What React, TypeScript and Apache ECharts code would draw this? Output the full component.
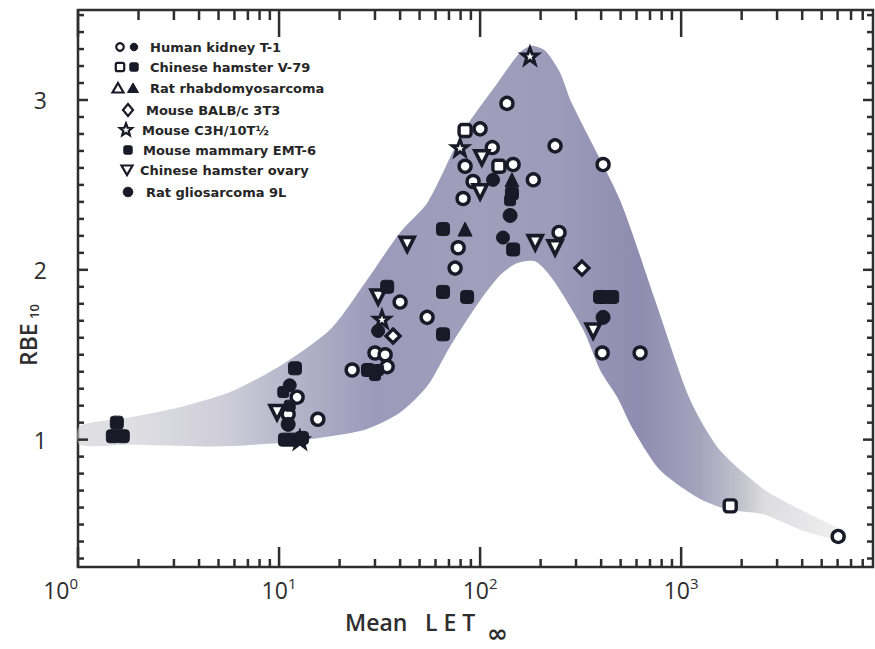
import React, { useEffect, useRef } from 'react';
import * as echarts from 'echarts';

const INK = '#1a1928';
const AXIS = '#2e2e2e';
const FONT = '"Open Sans", "Noto Sans", sans-serif';
const LEGEND_FONT = 'DejaVu Sans';

const X_MIN = 1;
const X_MAX = 9000;
const Y_MIN = 0.25;
const Y_MAX = 3.53;

// Shaded band (upper & lower envelopes)
const bandUpperLET = [1.02, 1.8, 3.2, 5.7, 10, 18, 27, 40, 55, 82, 122, 158, 181, 211, 250, 281, 341, 497, 743, 1104, 1554, 2560, 3480, 4920, 6180];
const bandUpper = [1.08, 1.13, 1.19, 1.28, 1.43, 1.65, 1.93, 2.22, 2.4, 2.81, 3.1, 3.28, 3.32, 3.29, 3.16, 3.0, 2.8, 2.41, 1.82, 1.24, 0.94, 0.71, 0.62, 0.53, 0.47];
const bandLowerLET = [1.02, 1.8, 4.7, 10, 18, 27, 40, 55, 71, 100, 126, 153, 188, 231, 325, 395, 481, 577, 787, 1244, 1694, 2560, 3910, 6180];
const bandLower = [0.97, 0.97, 0.96, 0.98, 1.02, 1.06, 1.16, 1.32, 1.55, 1.82, 1.97, 2.04, 2.05, 1.94, 1.65, 1.41, 1.25, 1.06, 0.82, 0.65, 0.59, 0.56, 0.47, 0.41];

// Data series [mean LET, RBE10]
const kidneyOpen = [[11.1, 1.15], [12.3, 1.25], [15.6, 1.12], [23.1, 1.41], [30.0, 1.51], [33.7, 1.5], [34.5, 1.43], [40.0, 1.81], [54.5, 1.72], [75.1, 2.01], [77.8, 2.13], [82.3, 2.42], [84.2, 2.61], [92.3, 2.52], [100, 2.83], [115, 2.72], [146, 2.62], [136, 2.98], [184, 2.53], [236, 2.73], [247, 2.22], [405, 1.51], [625, 1.51], [409, 2.62], [6040, 0.43]];
const kidneyFilled = [[11.3, 1.32], [31.1, 1.64], [116, 2.53], [130, 2.19]];
const v79Open = [[84.2, 2.82], [1754, 0.61], [124, 2.61]];
const v79Filled = [[1.49, 1.02], [1.56, 1.1], [1.67, 1.02], [12.0, 1.42], [10.7, 1.0], [11.7, 1.0], [13.0, 1.01], [34.5, 1.9], [27.7, 1.41], [65.4, 2.24], [65.4, 1.62], [65.4, 1.87], [86.2, 1.84], [144, 2.45], [146, 2.12], [395, 1.84], [409, 1.84], [454, 1.84]];
const rhabdoFilled = [[84.2, 2.24], [144, 2.53]];
const balbDiamond = [[36.9, 1.61], [321, 2.01]];
const c3hStar = [[177, 3.26], [79.5, 2.72], [32.5, 1.71], [12.7, 1.0]];
const emt6 = [[31.1, 1.41], [10.5, 1.28], [11.3, 1.2], [141, 2.41], [30.0, 1.38]];
const cho = [[9.77, 1.16], [43.4, 2.15], [31.1, 1.84], [102, 2.66], [100, 2.46], [188, 2.16], [236, 2.13], [365, 1.64]];
const glio = [[141, 2.32], [409, 1.72], [11.1, 1.09]];

// Tick values
const xMajorTicks = [1, 10, 100, 1000];
const xMinorTicks = [2, 3, 4, 5, 6, 7, 8, 9, 20, 30, 40, 50, 60, 70, 80, 90, 200, 300, 400, 500, 600, 700, 800, 900, 2000, 3000, 4000, 5000, 6000, 7000, 8000];
const yMajorTicks = [1, 2, 3];
const yMinorTicks = [0.3, 0.4, 0.5, 0.6, 0.7, 0.8, 0.9, 1.1, 1.2, 1.3, 1.4, 1.5, 1.6, 1.7, 1.8, 1.9, 2.1, 2.2, 2.3, 2.4, 2.5, 2.6, 2.7, 2.8, 2.9, 3.1, 3.2, 3.3, 3.4, 3.5];
const yLabelValues = [1, 2, 3];

const STAR = 'path://M12,1 L15,9 L23,9 L16.5,14 L19,22 L12,17 L5,22 L7.5,14 L1,9 L9,9 Z';

const legendRows = [
  { label: 'Human kidney T-1', marks: [['circle', true, 120], ['circle', false, 134]], tx: 150, y: 47 },
  { label: 'Chinese hamster V-79', marks: [['square', true, 120], ['square', false, 134]], tx: 150, y: 67 },
  { label: 'Rat rhabdomyosarcoma', marks: [['triangle', true, 118], ['triangle', false, 133]], tx: 150, y: 88 },
  { label: 'Mouse BALB/c 3T3', marks: [['diamond', true, 128]], tx: 146, y: 110 },
  { label: 'Mouse C3H/10T½', marks: [['star', true, 126]], tx: 142, y: 130 },
  { label: 'Mouse mammary EMT-6', marks: [['square', false, 128]], tx: 143, y: 150 },
  { label: 'Chinese hamster ovary', marks: [['invTriangle', true, 127]], tx: 140, y: 170 },
  { label: 'Rat gliosarcoma 9L', marks: [['bigCircle', false, 128]], tx: 146, y: 192 },
];

function legendMark(kind: string, open: boolean, cx: number, cy: number): any {
  const style = open ? { fill: '#fff', stroke: INK, lineWidth: 2.2 } : { fill: INK, stroke: INK, lineWidth: 1 };
  if (kind === 'circle') return { type: 'circle', shape: { cx, cy, r: 3.8 }, style };
  if (kind === 'bigCircle') return { type: 'circle', shape: { cx, cy, r: 4.8 }, style };
  if (kind === 'square') return { type: 'rect', shape: { x: cx - 4.2, y: cy - 4.2, width: 8.4, height: 8.4, r: 1.5 }, style };
  if (kind === 'triangle') return { type: 'polygon', shape: { points: [[cx, cy - 5], [cx + 5.5, cy + 4.5], [cx - 5.5, cy + 4.5]] }, style };
  if (kind === 'invTriangle') return { type: 'polygon', shape: { points: [[cx - 5.5, cy - 4.5], [cx + 5.5, cy - 4.5], [cx, cy + 5]] }, style };
  if (kind === 'diamond') return { type: 'polygon', shape: { points: [[cx, cy - 6], [cx + 5, cy], [cx, cy + 6], [cx - 5, cy]] }, style };
  const pts: number[][] = [];
  for (let i = 0; i < 10; i++) {
    const r = i % 2 === 0 ? 6.5 : 2.8;
    const a = -Math.PI / 2 + (i * Math.PI) / 5;
    pts.push([cx + r * Math.cos(a), cy + r * Math.sin(a)]);
  }
  return { type: 'polygon', shape: { points: pts }, style };
}

const TW = 2.5; // tick thickness

// Tick marks drawn as rectangular scatter symbols placed by the chart's own axes
function tickScatter(name: string, data: number[][], w: number, h: number, offset: number[]) {
  return {
    type: 'scatter',
    name,
    data,
    symbol: 'rect',
    symbolSize: [w, h],
    symbolOffset: offset,
    itemStyle: { color: AXIS, opacity: 1 },
    clip: false,
    silent: true,
    z: 4,
  };
}

export default function App() {
  const ref = useRef<HTMLDivElement>(null);
  useEffect(() => {
    if (!ref.current) return;
    const chart = echarts.init(ref.current, null, { renderer: 'svg' });

    const openStyle = { color: '#ffffff', borderColor: INK, borderWidth: 3.4, opacity: 1 };
    const filledStyle = { color: INK, borderColor: INK, borderWidth: 1, opacity: 1 };

    const scatter = (name: string, data: number[][], symbol: string, size: number, open: boolean, rotate = 0, bw?: number) => ({
      type: 'scatter',
      name,
      data,
      symbol,
      symbolSize: size,
      symbolRotate: rotate,
      itemStyle: open ? { ...openStyle, borderWidth: bw ?? openStyle.borderWidth } : filledStyle,
      z: 5,
      silent: true,
    });

    const legendGraphics: any[] = [];
    legendRows.forEach((row) => {
      row.marks.forEach((m: any) => legendGraphics.push(legendMark(m[0], m[1], m[2], row.y)));
      legendGraphics.push({
        type: 'text',
        x: row.tx,
        y: row.y,
        style: {
          text: row.label,
          fill: '#262626',
          fontSize: 13,
          fontWeight: 'bold',
          fontFamily: LEGEND_FONT,
          verticalAlign: 'middle',
        },
      });
    });

    const graphics: any[] = [
      {
        type: 'group',
        x: 28,
        y: 366,
        rotation: Math.PI / 2,
        children: [
          {
            type: 'text',
            x: 0,
            y: 0,
            style: { text: 'RBE', fontSize: 23, fontWeight: 600, fontFamily: FONT, fill: AXIS, align: 'left', verticalAlign: 'middle' },
          },
          {
            type: 'text',
            x: 47,
            y: 6,
            style: { text: '10', fontSize: 13, fontWeight: 600, fontFamily: FONT, fill: AXIS, align: 'left', verticalAlign: 'middle' },
          },
        ],
      },
      {
        type: 'text',
        x: 345,
        y: 622,
        style: { text: 'Mean', fontSize: 23, fontWeight: 600, fontFamily: FONT, fill: AXIS, verticalAlign: 'middle' },
      },
      {
        type: 'text',
        x: 425,
        y: 622,
        style: { text: 'L E T', fontSize: 23, fontWeight: 600, fontFamily: FONT, fill: AXIS, verticalAlign: 'middle' },
      },
      {
        type: 'text',
        x: 487,
        y: 633,
        style: { text: '∞', fontSize: 25, fontWeight: 'bold', fontFamily: 'DejaVu Sans', fill: AXIS, verticalAlign: 'middle' },
      },
      ...legendGraphics,
    ];

    const option: any = {
      animation: false,
      backgroundColor: '#ffffff',
      grid: {
        left: 78,
        right: 2,
        top: 10,
        bottom: 82,
        show: true,
        borderColor: AXIS,
        borderWidth: 2.5,
        backgroundColor: 'rgba(0,0,0,0)',
      },
      xAxis: {
        type: 'log',
        logBase: 10,
        min: X_MIN,
        max: X_MAX,
        axisLine: { show: false },
        axisTick: { show: false },
        splitLine: { show: false },
        axisLabel: {
          margin: 8,
          showMaxLabel: false,
          alignMinLabel: 'right',
          formatter: (v: number) => {
            const e = Math.round(Math.log10(v));
            if (Math.abs(Math.log10(v) - e) > 1e-6) return '';
            return `{b|10}{s|${e}}`;
          },
          rich: {
            b: { fontSize: 23, lineHeight: 30, color: AXIS, fontFamily: FONT, verticalAlign: 'middle' },
            s: { fontSize: 15, lineHeight: 14, color: AXIS, fontFamily: FONT, verticalAlign: 'top' },
          },
        },
      },
      yAxis: {
        type: 'value',
        min: Y_MIN,
        max: Y_MAX,
        axisLine: { show: false },
        axisTick: { show: false },
        splitLine: { show: false },
        axisLabel: {
          customValues: yLabelValues,
          margin: 31,
          fontSize: 23,
          color: AXIS,
          fontFamily: FONT,
          fontWeight: 500,
          formatter: (v: number) => (Math.abs(v - Math.round(v)) < 1e-6 ? String(Math.round(v)) : ''),
        },
      },
      graphic: graphics,
      series: [
        {
          type: 'custom',
          name: 'band',
          silent: true,
          z: 1,
          data: [[1, 1]],
          renderItem: (params: any, api: any) => {
            const pts: number[][] = [];
            bandUpperLET.forEach((x, i) => pts.push(api.coord([x, bandUpper[i]])));
            for (let i = bandLowerLET.length - 1; i >= 0; i--) pts.push(api.coord([bandLowerLET[i], bandLower[i]]));
            return {
              type: 'polygon',
              shape: { points: pts, smooth: 0.25 },
              style: {
                fill: new echarts.graphic.LinearGradient(0, 0, 1, 0, [
                  { offset: 0, color: 'rgba(205,205,210,0.6)' },
                  { offset: 0.06, color: '#e0e0e4' },
                  { offset: 0.19, color: '#cfced9' },
                  { offset: 0.29, color: '#b3b2c8' },
                  { offset: 0.39, color: '#9c9aba' },
                  { offset: 0.52, color: '#a09eba' },
                  { offset: 0.63, color: '#9d9bba' },
                  { offset: 0.735, color: '#8e8cb0' },
                  { offset: 0.815, color: '#a5a4bd' },
                  { offset: 0.874, color: '#c6c6cf' },
                  { offset: 0.9, color: '#dddde0' },
                  { offset: 1, color: '#f0f0f0' },
                ]),
              },
            };
          },
        },
        tickScatter('tick-x-major-bottom', xMajorTicks.map((v) => [v, Y_MIN]), TW, 20, [0, -10]),
        tickScatter('tick-x-minor-bottom', xMinorTicks.map((v) => [v, Y_MIN]), TW, 8, [0, -4]),
        tickScatter('tick-x-major-top', xMajorTicks.map((v) => [v, Y_MAX]), TW, 27, [0, 13.5]),
        tickScatter('tick-x-minor-top', xMinorTicks.map((v) => [v, Y_MAX]), TW, 10, [0, 5]),
        tickScatter('tick-y-major-left', yMajorTicks.map((v) => [X_MIN, v]), 10, TW, [5, 0]),
        tickScatter('tick-y-minor-left', yMinorTicks.map((v) => [X_MIN, v]), 6, TW, [3, 0]),
        tickScatter('tick-y-major-right', yMajorTicks.map((v) => [X_MAX, v]), 10, TW, [-5, 0]),
        tickScatter('tick-y-minor-right', yMinorTicks.map((v) => [X_MAX, v]), 6, TW, [-3, 0]),
        scatter('Human kidney T-1 (open)', kidneyOpen, 'circle', 12, true),
        scatter('Chinese hamster V-79 (open)', v79Open, 'roundRect', 12, true),
        scatter('Mouse BALB/c 3T3', balbDiamond, 'diamond', 14, true),
        scatter('Chinese hamster ovary', cho, 'triangle', 14, true, 180, 3.6),
        scatter('Mouse C3H/10T½', c3hStar, STAR, 16, true, 0, 3),
        scatter('Human kidney T-1 (filled)', kidneyFilled, 'circle', 13, false),
        scatter('Chinese hamster V-79 (filled)', v79Filled, 'roundRect', 13, false),
        scatter('Rat rhabdomyosarcoma (filled)', rhabdoFilled, 'triangle', 14, false),
        scatter('Mouse mammary EMT-6', emt6, 'roundRect', 11, false),
        scatter('Rat gliosarcoma 9L', glio, 'circle', 14, false),
      ],
    };

    chart.setOption(option);
    return () => chart.dispose();
  }, []);

  return (
    <div
      ref={ref}
      style={{ position: 'fixed', left: 0, top: 0, width: 875, height: 649, background: '#fff' }}
    />
  );
}
